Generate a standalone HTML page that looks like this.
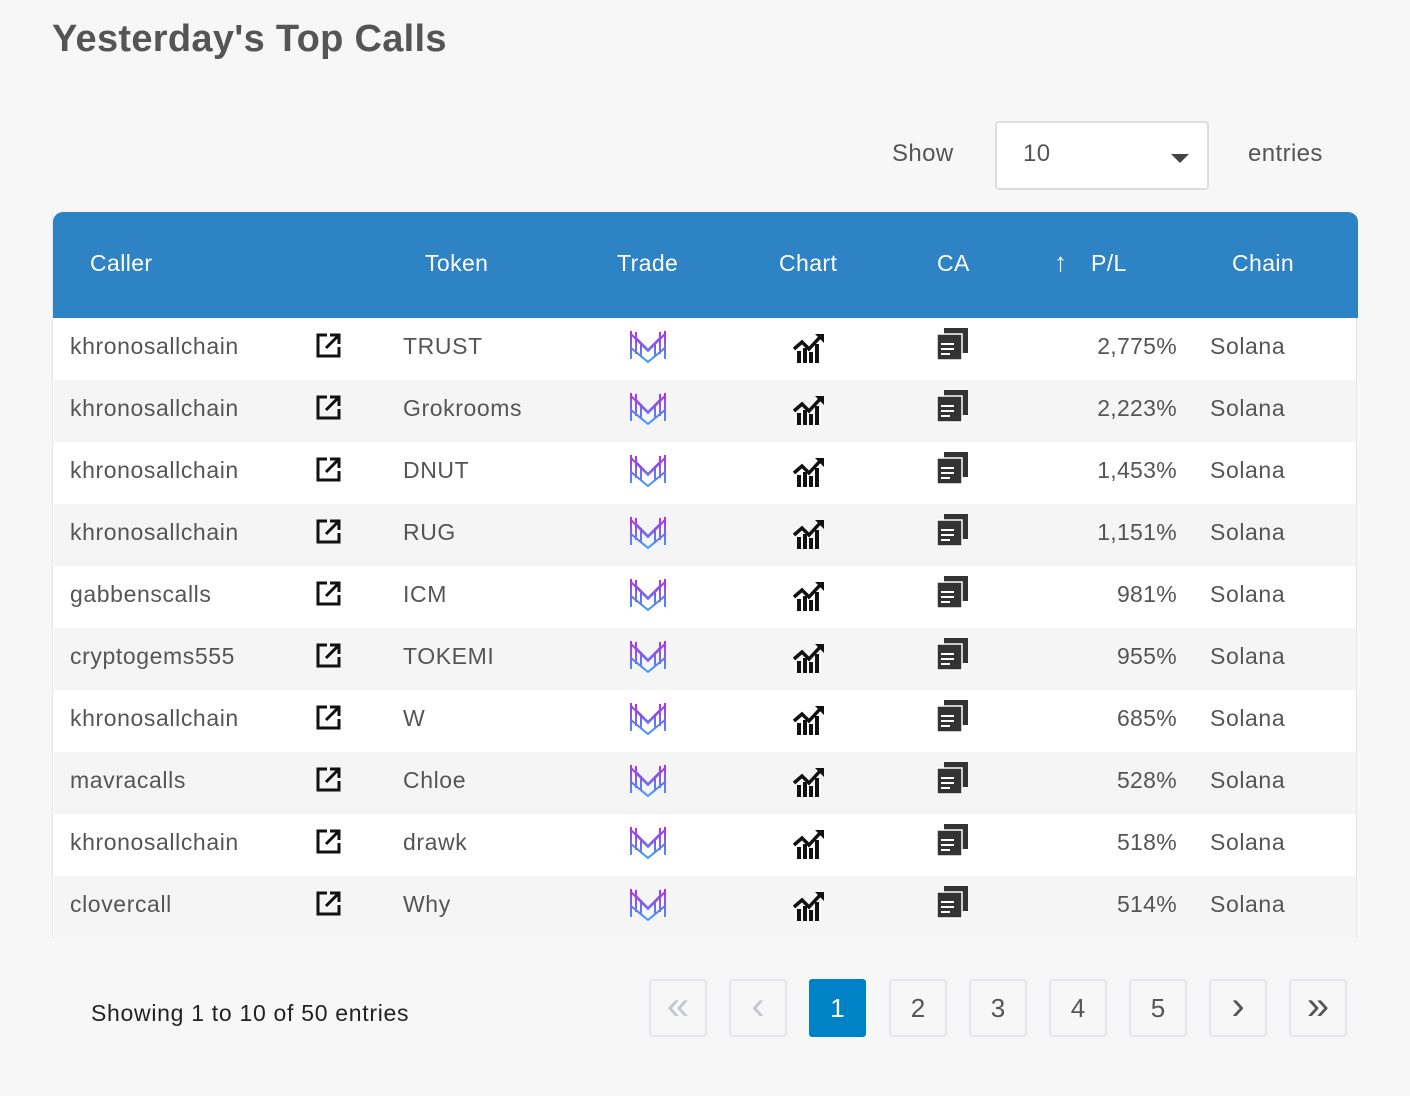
<!DOCTYPE html>
<html><head><meta charset="utf-8"><style>
body{margin:0;width:1410px;height:1096px;background:#f7f7f7;font-family:"Liberation Sans",sans-serif;position:relative;overflow:hidden}
.abs{position:absolute}
h1{position:absolute;left:52px;top:18px;margin:0;font-size:38px;font-weight:bold;color:#555;letter-spacing:0.3px}
.t{font-size:24px;color:#555;letter-spacing:0.4px}
#table{position:absolute;left:52px;top:212px;width:1303px;height:725px;border:1px solid #e6e6e6;border-top:none;background:#fff}
#head{position:absolute;left:0;top:0;width:1305px;height:106px;background:#2e83c4;border-radius:10px 10px 0 0}
.h{position:absolute;top:38px;color:#fff;font-size:23px;letter-spacing:0.4px}
.row{position:absolute;left:1px;width:1302px;height:62px}
.cell{position:absolute;top:15px;font-size:23px;color:#555;white-space:nowrap;letter-spacing:0.6px}
.pg{position:absolute;top:979px;width:58px;height:58px;border:2px solid #e6e6ec;border-radius:3px;box-sizing:border-box;text-align:center;line-height:55px;font-size:26px;color:#555}
</style></head><body>
<h1>Yesterday's Top Calls</h1>
<div class="abs t" style="left:892px;top:140px">Show</div>
<div class="abs" style="left:995px;top:121px;width:214px;height:69px;border:2px solid #ddd;border-radius:4px;box-sizing:border-box;background:#fff">
<span class="abs t" style="left:26px;top:17px">10</span>
<div class="abs" style="left:174px;top:31px;width:0;height:0;border-left:9px solid transparent;border-right:9px solid transparent;border-top:9px solid #444"></div></div>
<div class="abs t" style="left:1248px;top:140px">entries</div>
<div id="table">
<div id="head">
<span class="h" style="left:37px">Caller</span>
<span class="h" style="left:372px">Token</span>
<span class="h" style="left:564px">Trade</span>
<span class="h" style="left:726px">Chart</span>
<span class="h" style="left:884px">CA</span>
<span class="h" style="left:1001px;font-size:26px;top:35px">↑</span>
<span class="h" style="left:1038px">P/L</span>
<span class="h" style="left:1179px">Chain</span>
</div>
<div id="rows"></div>
</div>
<div class="abs" style="left:91px;top:1000px;font-size:23px;color:#222;letter-spacing:0.7px">Showing 1 to 10 of 50 entries</div>
<div id="pager"></div>
<script>
const callers=["khronosallchain","khronosallchain","khronosallchain","khronosallchain","gabbenscalls","cryptogems555","khronosallchain","mavracalls","khronosallchain","clovercall"];
const tokens=["TRUST","Grokrooms","DNUT","RUG","ICM","TOKEMI","W","Chloe","drawk","Why"];
const pls=["2,775%","2,223%","1,453%","1,151%","981%","955%","685%","528%","518%","514%"];
const chains=["Solana","Solana","Solana","Solana","Solana","Solana","Solana","Solana","Solana","Solana"];
const pages=["«","‹","1","2","3","4","5","›","»"];
const ext='<svg width="26" height="26" viewBox="0 0 26 26"><path d="M12 2H3v21h21v-9" fill="none" stroke="#111" stroke-width="3"/><path d="M11 15L23 3M15 2h9v9" fill="none" stroke="#111" stroke-width="3"/></svg>';
const trade='<svg width="40" height="36" viewBox="0 0 40 36"><defs><linearGradient id="g" x1="0" y1="0" x2="0" y2="1"><stop offset="0" stop-color="#b52ee0"/><stop offset="1" stop-color="#3d9bf5"/></linearGradient></defs><path d="M3 3v28M37 3v28M3 6l17 17L37 6M8 4v22M32 4v22M8 10l12 12 12-12M3 20l17 14 17-14M13 14v14M27 14v14" fill="none" stroke="url(#g)" stroke-width="2"/></svg>';
const chart='<svg width="32" height="32" viewBox="0 0 32 32"><path d="M1 18l8-7 7 7L28 5" fill="none" stroke="#111" stroke-width="3.5"/><path d="M22 3h9v9z" fill="#111"/><rect x="4" y="20" width="4" height="12" fill="#111"/><rect x="10" y="17" width="4" height="15" fill="#111"/><rect x="16" y="21" width="4" height="11" fill="#111"/><rect x="22" y="13" width="4" height="19" fill="#111"/></svg>';
const ca='<svg width="34" height="34" viewBox="0 0 34 34"><rect x="8" y="1" width="24" height="25" fill="#333"/><rect x="1" y="7" width="25" height="26" fill="#333" stroke="#fff" stroke-width="1.5"/><path d="M5 17h13M5 22h13M5 27h9" stroke="#fff" stroke-width="2"/></svg>';
const rows=document.getElementById('rows');
callers.forEach((c,i)=>{
 const r=document.createElement('div');r.className='row';
 
 
 r.style.top=(106+i*62)+'px';r.style.background=i%2?'#f5f5f5':'#fff';
 r.innerHTML=`<span class="cell" style="left:16px">${c}</span>
 <span class="cell" style="left:261px;top:15px">${ext}</span>
 <span class="cell" style="left:349px">${tokens[i]}</span>
 <span class="cell" style="left:574px;top:10px">${trade}</span>
 <span class="cell" style="left:739px;top:13px">${chart}</span>
 <span class="cell" style="left:882px;top:9px">${ca}</span>
 <span class="cell" style="right:179px;letter-spacing:0.3px">${pls[i]}</span>
 <span class="cell" style="left:1156px">${chains[i]}</span>`;
 const kids=r.querySelectorAll('.cell');const nm=['caller-name','caller-link-icon','token-name','trade-icon','chart-icon','copy-ca-icon','pl-value','chain-name'];
 kids.forEach((k,j)=>{});
 rows.appendChild(r);
});
const pager=document.getElementById('pager');
pages.forEach((p,i)=>{
 const b=document.createElement('div');b.className='pg';
 
 
 b.style.left=(649+i*80)+'px';b.textContent=p;
 if(p==='1'){b.style.background='#0083c6';b.style.borderColor='#0083c6';b.style.color='#fff';b.style.width='57px';}
 if(i<2){b.style.color='#c5c8d0';b.style.fontSize='40px';b.style.lineHeight='50px';}
 if(i>6){b.style.fontSize='40px';b.style.lineHeight='50px';}
 pager.appendChild(b);
});
</script>
</body></html>
